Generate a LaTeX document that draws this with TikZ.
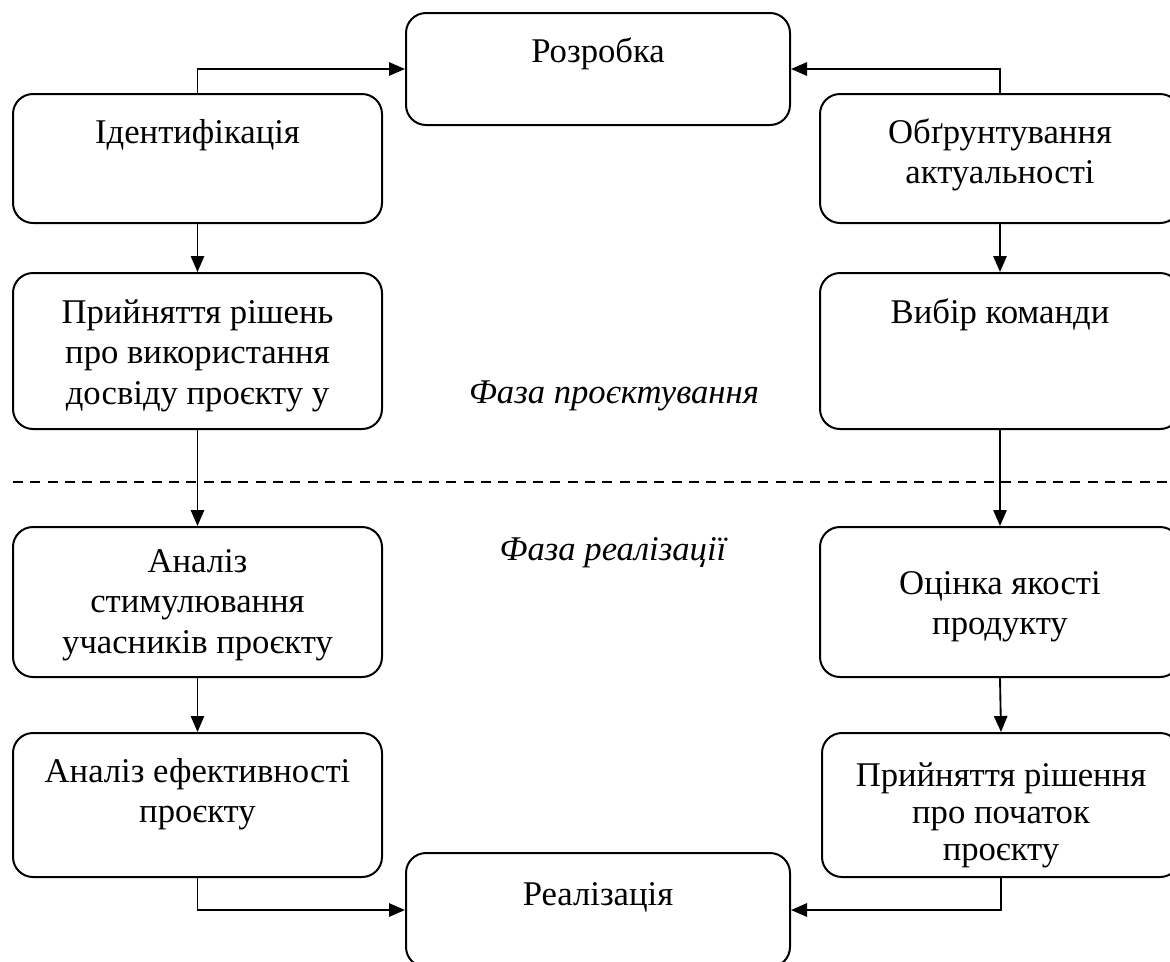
\documentclass[tikz,border=0pt]{standalone}
\usepackage{fontspec}
\setmainfont{Liberation Serif}
\usetikzlibrary{arrows.meta}
\newcommand\ml[1]{\begin{tabular}[t]{@{}c@{}}#1\end{tabular}}
\tikzset{
  box/.style={draw, rounded corners=15pt, line width=1.5pt, inner sep=0pt},
  txt/.style={inner sep=0pt, anchor=base, font=\fontsize{26}{30.5}\selectfont},
  tighttxt/.style={inner sep=0pt, anchor=base, font=\fontsize{26}{28}\selectfont},
  phase/.style={inner sep=0pt, anchor=base, font=\fontsize{26}{30.5}\selectfont\itshape},
  arr/.style={line width=1.4pt, -{Triangle[length=12pt,width=10pt]}},
  sep/.style={line width=1.2pt, dash pattern=on 7.5pt off 5.5pt}
}
% \bx{name}{x1}{y1}{x2}{y2}
\newcommand\bx[5]{\node[box, minimum width={(#4-#2)*0.75pt}, minimum height={(#5-#3)*0.75pt}] (#1) at ({(#2+#4)/2},{(#3+#5)/2}) {};}
\begin{document}
\begin{tikzpicture}[x=0.75pt, y=-0.75pt]
\useasboundingbox (0,0) rectangle (1170,961);
\clip (0,0) rectangle (1170,961);
% boxes
\bx{razr}{406}{13}{790}{125}
\bx{ident}{13}{94}{382}{223}
\bx{obg}{820}{94}{1180}{223}
\bx{pryin}{13}{273}{382}{429}
\bx{vybir}{820}{273}{1180}{429}
\bx{anst}{13}{527}{382}{677}
\bx{ots}{820}{527}{1180}{677}
\bx{anef}{13}{733}{382}{877}
\bx{prpoch}{822}{733}{1180}{877}
\bx{real}{406}{853}{790}{967}
% texts
\node[txt] (razr-t) at (598,62) {Розробка};
\node[txt] (ident-t) at (197.5,143) {Ідентифікація};
\node[txt] (obg-t) at (1000,143) {\ml{Обґрунтування\\актуальності}};
\node[txt] (pryin-t) at (197.5,323) {\ml{Прийняття рішень\\про використання\\досвіду проєкту у}};
\node[txt] (vybir-t) at (1000,323) {Вибір команди};
\node[txt] (anst-t) at (197.5,572) {\ml{Аналіз\\стимулювання\\учасників проєкту}};
\node[txt] (ots-t) at (1000,594) {\ml{Оцінка якості\\продукту}};
\node[txt] (anef-t) at (197.5,782) {\ml{Аналіз ефективності\\проєкту}};
\node[tighttxt] (prpoch-t) at (1001,786) {\ml{Прийняття рішення\\про початок\\проєкту}};
\node[txt] (real-t) at (598,905) {Реалізація};
\node[phase] (ph1) at (614,403) {Фаза проєктування};
\node[phase] (ph2) at (613,560) {Фаза реалізації};
% separator
\coordinate (dl) at (13,482);
\coordinate (dr) at (1170,482);
\draw[sep] (dl) -- (dr);
% connectors
\draw[arr] (ident.north) |- (razr.west);
\draw[arr] (obg.north) |- (razr.east);
\draw[arr] (ident.south) -- (pryin.north);
\draw[arr] (obg.south) -- (vybir.north);
\draw[arr] (pryin.south) -- (anst.north);
\draw[arr] (vybir.south) -- (ots.north);
\draw[arr] (anst.south) -- (anef.north);
\draw[arr] (ots.south) -- (prpoch.north);
\draw[arr] (anef.south) |- (real.west);
\draw[arr] (prpoch.south) |- (real.east);
\end{tikzpicture}
\end{document}
